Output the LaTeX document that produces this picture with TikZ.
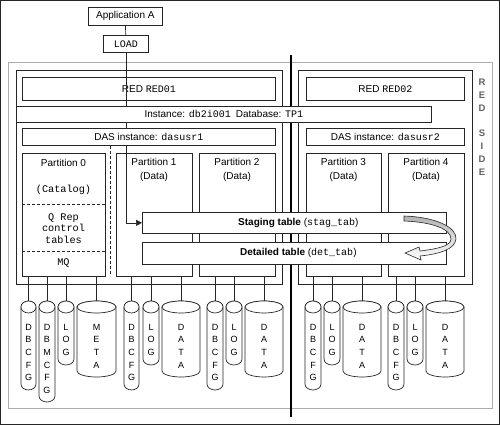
\documentclass[tikz,border=0pt]{standalone}
\usepackage{fontspec}
\setmainfont{Liberation Sans}
\setmonofont{Liberation Mono}
\usetikzlibrary{arrows.meta}
\newcommand{\sfx}{\fontsize{10}{13.5}\selectfont}
\newcommand{\ttx}{\fontsize{10.2}{11.5}\selectfont\ttfamily}
\newcommand{\cylx}[6]{% name, cx, bottom, rx, letter-centre y, letters
  \coordinate (#1) at (#2,301);
  \draw[cylline] ({#2-#4},307) -- ({#2-#4},{#3-6})
    arc[start angle=180,end angle=360,x radius=#4pt,y radius=6pt]
    -- ({#2+#4},307)
    arc[start angle=0,end angle=180,x radius=#4pt,y radius=6pt] -- cycle;
  \draw[cylline] (#2,307) ellipse[x radius=#4pt,y radius=6pt];
  \node[cyltxt] (#1t) at (#2,#5) {#6};
}
\begin{document}
\begin{tikzpicture}[x=1pt,y=-1pt,
  ln/.style={draw=black!85, line width=0.7pt},
  bx/.style={ln, inner sep=0pt, anchor=north west, font=\sfx},
  wbx/.style={bx, fill=white},
  wire/.style={ln},
  dsh/.style={ln, dash pattern=on 3pt off 2pt},
  cylline/.style={ln, fill=white},
  cyltxt/.style={inner sep=0pt, align=center, font=\fontsize{9}{12.7}\selectfont},
  sf/.style={inner sep=0pt, font=\sfx, align=center},
  tt/.style={inner sep=0pt, font=\ttx, align=center}]
\useasboundingbox (0,0) rectangle (500,425);
\draw[black!85, line width=0.8pt] (0.5,0.5) rectangle (499.5,424.5);
% gray frame
\node[bx, draw=gray!65, minimum width=484pt, minimum height=346pt] (frame) at (8,62) {};
\node[inner sep=0pt, align=center, text=gray!75!black, font=\fontsize{9.5}{12.9}\selectfont\bfseries] (side) at (482,127.2) {R\\E\\D\\\mbox{}\\S\\I\\D\\E};
% servers
\node[bx, minimum width=266pt, minimum height=214pt] (srvL) at (16,70) {};
\node[bx, minimum width=174pt, minimum height=214pt] (srvR) at (298,70) {};
% divider
\coordinate (divT) at (291,55);
\coordinate (divB) at (291,417);
\draw[black, line width=1.3pt] (divT) -- (divB);
% RED boxes
\node[bx, minimum width=253pt, minimum height=23pt] (red1) at (22,77) {RED \texttt{RED01}};
\node[bx, minimum width=158pt, minimum height=23pt] (red2) at (306,77) {RED \texttt{RED02}};
% partitions
\node[bx, minimum width=83pt, minimum height=123pt] (p0) at (22,153) {};
\node[bx, minimum width=76pt, minimum height=123pt] (p1) at (116,153) {};
\node[bx, minimum width=76pt, minimum height=123pt] (p2) at (199,153) {};
\node[bx, minimum width=75pt, minimum height=123pt] (p3) at (306,153) {};
\node[bx, minimum width=76pt, minimum height=123pt] (p4) at (388,153) {};
\node[sf] (p0a) at (63.5,163) {Partition 0};
\node[tt] (p0b) at (63.5,190) {(Catalog)};
\node[tt] (p0c) at (63.5,228.5) {Q Rep\\control\\tables};
\node[tt] (p0d) at (63.5,263) {MQ};
\draw[dsh] (p0.west |- 0,204) -- (p0.east |- 0,204);
\draw[dsh] (p0.west |- 0,251) -- (p0.east |- 0,251);
\draw[dsh] (110,146) -- (110,276);
\node[sf] (p1a) at (154,170) {Partition 1\\(Data)};
\node[sf] (p2a) at (237,170) {Partition 2\\(Data)};
\node[sf] (p3a) at (343.5,170) {Partition 3\\(Data)};
\node[sf] (p4a) at (426,170) {Partition 4\\(Data)};
% application and load
\node[bx, minimum width=74pt, minimum height=18pt] (app) at (88,7) {Application A};
\node[bx, minimum width=45pt, minimum height=17pt] (load) at (103,35) {\texttt{LOAD}};
\draw[wire] (app) -- (load);
% tables
\node[wbx, minimum width=304pt, minimum height=21pt] (stg) at (142,212) {\hspace{8pt}\textbf{Staging table} (\texttt{stag\_tab})};
\node[wbx, minimum width=304pt, minimum height=22pt] (det) at (142,242) {\hspace{8pt}\textbf{Detailed table} (\texttt{det\_tab})};
\draw[wire, -{Triangle[length=6pt,width=6pt]}] (load.south) |- (stg.west);
% instance and DAS bars
\node[wbx, minimum width=415pt, minimum height=16pt] (inst) at (16,106) {Instance: \texttt{db2i001}\hspace{5pt}Database: \texttt{TP1}};
\node[wbx, minimum width=253pt, minimum height=17pt] (das1) at (22,128) {DAS instance: \texttt{dasusr1}};
\node[wbx, minimum width=158pt, minimum height=17pt] (das2) at (306,128) {DAS instance: \texttt{dasusr2}};
% curved arrow
\shadedraw[ln, line width=0.6pt, top color=gray!60, middle color=white, bottom color=white]
  (404,216) .. controls (435,217) and (457,227) .. (456,239)
  .. controls (455,249) and (440,254) .. (420,256)
  -- (421,260) -- (405,253) -- (419,247) -- (420,251)
  .. controls (437,249) and (451,246) .. (451,239)
  .. controls (451,229) and (432,222) .. (404,221) -- cycle;
% disks
\cylx{c1}{28.5}{390}{7.5}{352.4}{D\\B\\C\\F\\G}
\cylx{c2}{47}{402}{8}{358.75}{D\\B\\M\\C\\F\\G}
\cylx{c3}{66}{365}{8}{339.7}{L\\O\\G}
\cylx{c4}{96.5}{377}{19.5}{346}{M\\E\\T\\A}
\cylx{c5}{131.5}{390}{7.5}{352.4}{D\\B\\C\\F\\G}
\cylx{c6}{151}{365}{8}{339.7}{L\\O\\G}
\cylx{c7}{181}{377}{19}{346}{D\\A\\T\\A}
\cylx{c8}{215}{390}{8}{352.4}{D\\B\\C\\F\\G}
\cylx{c9}{234}{365}{8}{339.7}{L\\O\\G}
\cylx{c10}{264}{377}{19}{346}{D\\A\\T\\A}
\cylx{c11}{313}{390}{8}{352.4}{D\\B\\C\\F\\G}
\cylx{c12}{332}{365}{8}{339.7}{L\\O\\G}
\cylx{c13}{362}{377}{19}{346}{D\\A\\T\\A}
\cylx{c14}{396}{390}{8}{352.4}{D\\B\\C\\F\\G}
\cylx{c15}{415}{365}{8}{339.7}{L\\O\\G}
\cylx{c16}{445}{377}{19}{346}{D\\A\\T\\A}
\foreach \p/\c in {p0/c1,p0/c2,p0/c3,p0/c4,p1/c5,p1/c6,p1/c7,p2/c8,p2/c9,p2/c10,p3/c11,p3/c12,p3/c13,p4/c14,p4/c15,p4/c16}
  \draw[wire] (\p.south -| \c) -- (\c);
\end{tikzpicture}
\end{document}
